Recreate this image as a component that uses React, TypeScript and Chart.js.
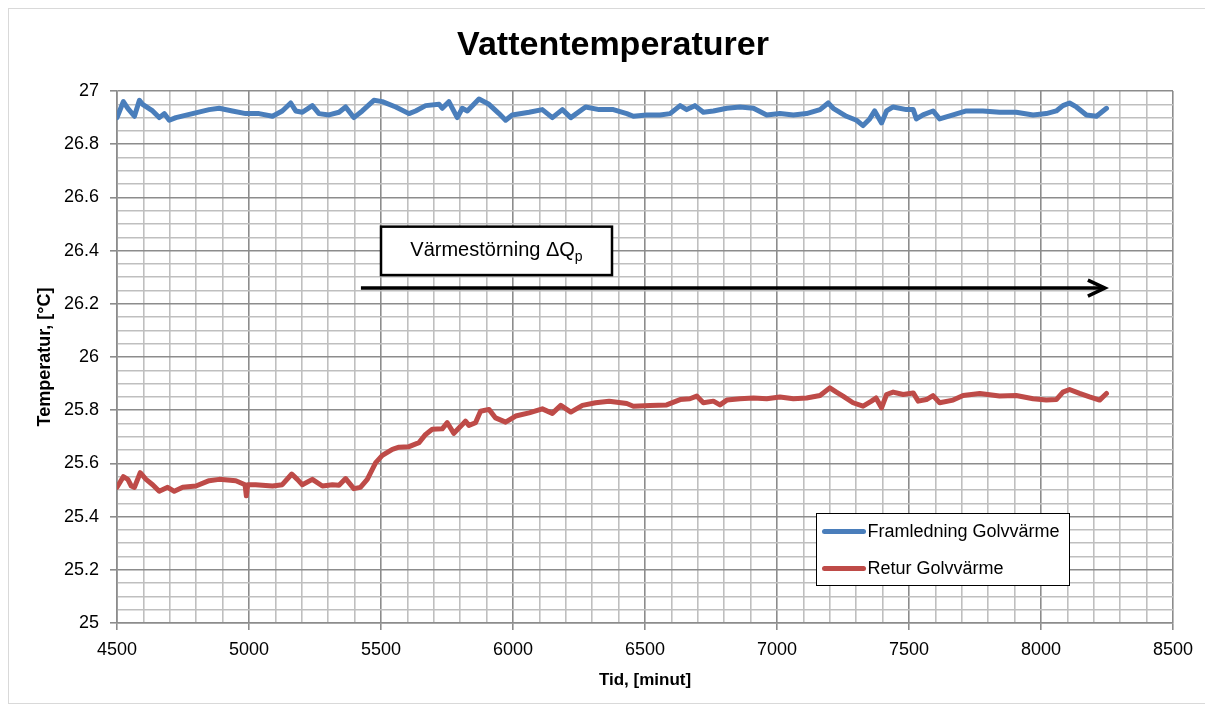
import React, { useEffect, useRef } from 'react';
import { Chart, registerables } from 'chart.js';

Chart.register(...registerables);

const chartTitle = 'Vattentemperaturer';
const xAxisTitle = 'Tid, [minut]';
const yAxisTitle = 'Temperatur, [°C]';
const seriesNames = ['Framledning Golvvärme', 'Retur Golvvärme'];
const annotationText = 'Värmestörning ΔQ';
const annotationSub = 'p';

const xMajorTicks = [4500, 5000, 5500, 6000, 6500, 7000, 7500, 8000, 8500];
const yMajorTicks = [25, 25.2, 25.4, 25.6, 25.8, 26, 26.2, 26.4, 26.6, 26.8, 27];

const blueTimes = [
  4500, 4524, 4541, 4566, 4585, 4597, 4635, 4660, 4679, 4698, 4723, 4786, 4849, 4887, 4937, 4988,
  5038, 5089, 5126, 5158, 5177, 5202, 5240, 5265, 5303, 5341, 5366, 5397, 5429, 5473, 5505, 5556,
  5606, 5631, 5669, 5720, 5732, 5757, 5789, 5808, 5827, 5871, 5909, 5947, 5972, 5997, 6061, 6111,
  6149, 6187, 6219, 6275, 6326, 6380, 6431, 6456, 6506, 6557, 6595, 6633, 6658, 6689, 6721, 6759,
  6810, 6860, 6911, 6961, 7011, 7062, 7112, 7163, 7194, 7213, 7263, 7301, 7326, 7351, 7370, 7396,
  7415, 7440, 7490, 7516, 7528, 7553, 7591, 7616, 7667, 7717, 7780, 7843, 7906, 7970, 8020, 8058,
  8083, 8108, 8134, 8172, 8210, 8248,
];
const blueValues = [
  26.9, 26.96, 26.935, 26.905, 26.965, 26.95, 26.925, 26.9, 26.915, 26.89, 26.9, 26.915, 26.93, 26.935, 26.925, 26.915,
  26.915, 26.905, 26.925, 26.955, 26.925, 26.92, 26.945, 26.915, 26.91, 26.92, 26.94, 26.9, 26.925, 26.965, 26.96, 26.94,
  26.915, 26.925, 26.945, 26.95, 26.935, 26.96, 26.9, 26.935, 26.925, 26.97, 26.95, 26.915, 26.89, 26.91, 26.92, 26.93,
  26.9, 26.93, 26.9, 26.94, 26.93, 26.93, 26.915, 26.905, 26.91, 26.91, 26.915, 26.945, 26.93, 26.945, 26.92, 26.925,
  26.935, 26.94, 26.935, 26.91, 26.915, 26.91, 26.915, 26.93, 26.955, 26.935, 26.905, 26.89, 26.87, 26.895, 26.925, 26.88,
  26.925, 26.94, 26.93, 26.93, 26.895, 26.91, 26.925, 26.895, 26.91, 26.925, 26.925, 26.92, 26.92, 26.91, 26.915, 26.925,
  26.945, 26.955, 26.94, 26.91, 26.905, 26.935,
];

const redTimes = [
  4500, 4524, 4541, 4554, 4566, 4588, 4610, 4635, 4660, 4692, 4717, 4749, 4799, 4849, 4887, 4950,
  4985, 4990, 4995, 5025, 5089, 5126, 5162, 5183, 5202, 5240, 5278, 5316, 5341, 5366, 5397, 5422,
  5448, 5480, 5505, 5543, 5568, 5606, 5644, 5669, 5694, 5732, 5751, 5776, 5808, 5820, 5833, 5858,
  5877, 5909, 5934, 5972, 6010, 6061, 6111, 6149, 6181, 6219, 6263, 6313, 6364, 6431, 6456, 6519,
  6582, 6633, 6670, 6696, 6721, 6759, 6784, 6810, 6860, 6911, 6961, 7011, 7062, 7112, 7163, 7200,
  7225, 7250, 7288, 7326, 7358, 7375, 7396, 7415, 7440, 7478, 7516, 7535, 7566, 7591, 7616, 7667,
  7705, 7768, 7843, 7906, 7970, 8020, 8058, 8083, 8108, 8146, 8184, 8222, 8248,
];
const redValues = [
  25.51, 25.55, 25.54, 25.515, 25.51, 25.565, 25.54, 25.52, 25.495, 25.51, 25.495, 25.51, 25.515, 25.535, 25.54, 25.535,
  25.52, 25.478, 25.52, 25.52, 25.515, 25.52, 25.56, 25.54, 25.52, 25.54, 25.515, 25.52, 25.518, 25.543, 25.505, 25.51,
  25.54, 25.603, 25.63, 25.653, 25.661, 25.663, 25.678, 25.709, 25.728, 25.73, 25.753, 25.713, 25.746, 25.759, 25.743, 25.753,
  25.796, 25.803, 25.771, 25.755, 25.778, 25.79, 25.805, 25.788, 25.818, 25.793, 25.818, 25.828, 25.834, 25.825, 25.815, 25.818,
  25.82, 25.84, 25.843, 25.853, 25.828, 25.834, 25.82, 25.838, 25.843, 25.846, 25.843, 25.85, 25.843, 25.846, 25.855, 25.884,
  25.868, 25.853, 25.828, 25.815, 25.834, 25.846, 25.809, 25.859, 25.868, 25.859, 25.865, 25.834, 25.84, 25.855, 25.828, 25.838,
  25.855, 25.863, 25.853, 25.855, 25.843, 25.838, 25.84, 25.868, 25.878, 25.863, 25.85, 25.838, 25.863,
];

const seriesColors = ['#4A7EBB', '#BE4B48'];
const FONT = "'Liberation Sans', Arial, sans-serif";

// annotation placement in data units
const boxX = [5500, 6375];
const boxY = [26.49, 26.308];
const arrowX = [5424, 8242];
const arrowY = 26.259;

const isMajorX = (v: number) => Math.abs(v / 500 - Math.round(v / 500)) < 1e-6;
const isMajorY = (v: number) => Math.abs(v * 5 - Math.round(v * 5)) < 1e-6;

const overlayPlugin = {
  id: 'overlay',
  afterDatasetsDraw(chart: any) {
    const ctx = chart.ctx;
    const xs = chart.scales.x;
    const ys = chart.scales.y;
    ctx.save();
    // annotation box
    const bx1 = xs.getPixelForValue(boxX[0]);
    const bx2 = xs.getPixelForValue(boxX[1]);
    const by1 = ys.getPixelForValue(boxY[0]);
    const by2 = ys.getPixelForValue(boxY[1]);
    ctx.fillStyle = '#fff';
    ctx.fillRect(bx1, by1, bx2 - bx1, by2 - by1);
    ctx.strokeStyle = '#000';
    ctx.lineWidth = 2.5;
    ctx.strokeRect(bx1, by1, bx2 - bx1, by2 - by1);
    ctx.font = `20px ${FONT}`;
    const mainW = ctx.measureText(annotationText).width;
    ctx.font = `14px ${FONT}`;
    const subW = ctx.measureText(annotationSub).width;
    const startX = (bx1 + bx2) / 2 - (mainW + subW) / 2;
    const cy = (by1 + by2) / 2;
    ctx.fillStyle = '#000';
    ctx.textBaseline = 'middle';
    ctx.textAlign = 'left';
    ctx.font = `20px ${FONT}`;
    ctx.fillText(annotationText, startX, cy);
    ctx.font = `14px ${FONT}`;
    ctx.fillText(annotationSub, startX + mainW, cy + 6);

    // arrow
    const ax1 = xs.getPixelForValue(arrowX[0]);
    const ax2 = xs.getPixelForValue(arrowX[1]);
    const ay = ys.getPixelForValue(arrowY);
    ctx.strokeStyle = '#000';
    ctx.lineWidth = 3.5;
    ctx.beginPath();
    ctx.moveTo(ax1, ay);
    ctx.lineTo(ax2 - 2, ay);
    ctx.stroke();
    ctx.beginPath();
    ctx.moveTo(ax2 - 17, ay - 8);
    ctx.lineTo(ax2, ay);
    ctx.lineTo(ax2 - 17, ay + 8);
    ctx.stroke();

    // legend
    const lx = 807.5, ly = 504.5, lw = 253, lh = 72;
    ctx.fillStyle = '#fff';
    ctx.fillRect(lx, ly, lw, lh);
    ctx.strokeStyle = '#000';
    ctx.lineWidth = 1;
    ctx.strokeRect(lx, ly, lw, lh);
    ctx.font = `18px ${FONT}`;
    ctx.textBaseline = 'middle';
    seriesNames.forEach((name, i) => {
      const y = ly + 18 + i * 37;
      ctx.strokeStyle = seriesColors[i];
      ctx.lineWidth = 5;
      ctx.lineCap = 'round';
      ctx.beginPath();
      ctx.moveTo(lx + 8, y);
      ctx.lineTo(lx + 47, y);
      ctx.stroke();
      ctx.fillStyle = '#000';
      ctx.fillText(name, lx + 51, y + 1);
    });
    ctx.restore();
  },
  afterDraw(chart: any) {
    const ctx = chart.ctx;
    const area = chart.chartArea;
    ctx.save();
    ctx.fillStyle = '#000';
    ctx.textAlign = 'center';
    ctx.textBaseline = 'middle';
    ctx.font = `bold 34px ${FONT}`;
    ctx.fillText(chartTitle, 604, 37);
    ctx.font = `bold 17px ${FONT}`;
    ctx.fillText(xAxisTitle, (area.left + area.right) / 2, 671);
    ctx.font = `bold 18px ${FONT}`;
    ctx.translate(36, (area.top + area.bottom) / 2);
    ctx.rotate(-Math.PI / 2);
    ctx.fillText(yAxisTitle, 0, 0);
    ctx.restore();
  },
};

export default function App() {
  const ref = useRef<HTMLCanvasElement | null>(null);
  useEffect(() => {
    if (!ref.current) return;
    const xTickVals: number[] = [];
    for (let i = 0; i < xMajorTicks.length - 1; i++) {
      for (let k = 0; k < 5; k++) xTickVals.push(xMajorTicks[i] + (k * (xMajorTicks[i + 1] - xMajorTicks[i])) / 5);
    }
    xTickVals.push(xMajorTicks[xMajorTicks.length - 1]);
    const yTickVals: number[] = [];
    for (let i = 0; i < yMajorTicks.length - 1; i++) {
      for (let k = 0; k < 4; k++) {
        const v = yMajorTicks[i] + (k * (yMajorTicks[i + 1] - yMajorTicks[i])) / 4;
        yTickVals.push(Math.round(v * 1000) / 1000);
      }
    }
    yTickVals.push(yMajorTicks[yMajorTicks.length - 1]);

    const chart = new Chart(ref.current, {
      type: 'line',
      data: {
        datasets: [
          {
            label: seriesNames[0],
            data: blueTimes.map((t, i) => ({ x: t, y: blueValues[i] })),
            borderColor: seriesColors[0],
            backgroundColor: seriesColors[0],
            borderWidth: 5,
            pointRadius: 0,
            tension: 0,
            fill: false,
            borderJoinStyle: 'round',
            borderCapStyle: 'round',
          },
          {
            label: seriesNames[1],
            data: redTimes.map((t, i) => ({ x: t, y: redValues[i] })),
            borderColor: seriesColors[1],
            backgroundColor: seriesColors[1],
            borderWidth: 5,
            pointRadius: 0,
            tension: 0,
            fill: false,
            borderJoinStyle: 'round',
            borderCapStyle: 'round',
          },
        ],
      },
      options: {
        responsive: false,
        animation: false,
        layout: { padding: { left: 0, right: 32, top: 82, bottom: 0 } },
        plugins: { legend: { display: false }, tooltip: { enabled: false }, title: { display: false } },
        scales: {
          x: {
            type: 'linear',
            min: 4500,
            max: 8500,
            afterBuildTicks: (s: any) => {
              s.ticks = xTickVals.map((v) => ({ value: v }));
            },
            afterFit: (s: any) => {
              s.height = 80;
            },
            ticks: {
              autoSkip: false,
              maxRotation: 0,
              minRotation: 0,
              padding: 9,
              color: '#000',
              font: { family: FONT, size: 18 },
              callback: (v: any) => (isMajorX(Number(v)) ? String(Math.round(Number(v))) : ''),
            },
            grid: {
              color: (c: any) => (c.tick && isMajorX(c.tick.value) ? '#8c8c8c' : '#bfbfbf'),
              lineWidth: 1.6,
              tickLength: 7,
              tickColor: (c: any) => (c.tick && isMajorX(c.tick.value) ? '#8c8c8c' : 'rgba(0,0,0,0)'),
            },
            border: { color: '#8c8c8c', width: 1.6 },
          },
          y: {
            type: 'linear',
            min: 25,
            max: 27,
            afterBuildTicks: (s: any) => {
              s.ticks = yTickVals.map((v) => ({ value: v }));
            },
            afterFit: (s: any) => {
              s.width = 108;
            },
            ticks: {
              autoSkip: false,
              padding: 11,
              color: '#000',
              font: { family: FONT, size: 18 },
              callback: (v: any) => (isMajorY(Number(v)) ? String(Math.round(Number(v) * 10) / 10) : ''),
            },
            grid: {
              color: (c: any) => (c.tick && isMajorY(c.tick.value) ? '#8c8c8c' : '#bfbfbf'),
              lineWidth: 1.6,
              tickLength: 7,
              tickColor: (c: any) => (c.tick && isMajorY(c.tick.value) ? '#8c8c8c' : 'rgba(0,0,0,0)'),
            },
            border: { color: '#8c8c8c', width: 1.6 },
          },
        },
      } as any,
      plugins: [overlayPlugin],
    });
    return () => chart.destroy();
  }, []);

  return (
    <div style={{ width: 1196, height: 694, border: '1px solid #d9d9d9', background: '#fff' }}>
      <canvas ref={ref} width={1196} height={694} style={{ display: 'block', width: 1196, height: 694 }} />
    </div>
  );
}
